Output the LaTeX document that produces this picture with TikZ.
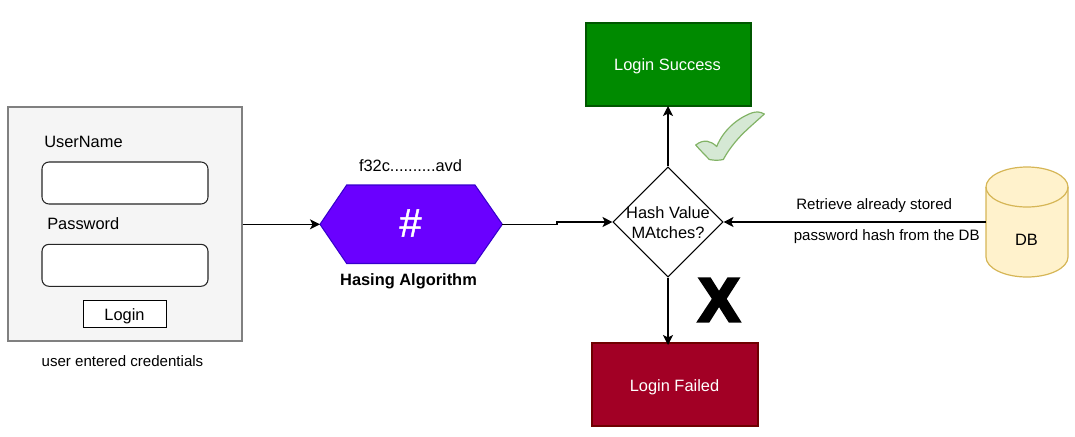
\documentclass[tikz,border=0pt]{standalone}
\usepackage{fontspec}
\setmainfont{Liberation Sans}
\usetikzlibrary{arrows.meta,shapes.geometric}
\newcommand{\pxu}{0.75pt}
\newfontfamily\heavyfont[FakeBold=5]{Liberation Sans Bold}
\newfontfamily\hashfont[FakeBold=1.2]{Liberation Sans}
\tikzset{
  x=0.75pt,y=-0.75pt,
  txt/.style={inner sep=0pt,font=\fontsize{12.3pt}{14pt}\selectfont,anchor=base,text=black},
  txtsm/.style={inner sep=0pt,font=\fontsize{11.3pt}{14pt}\selectfont,anchor=base,text=black},
  txtw/.style={txt,text=white},
  panel/.style={draw=black!50,fill=black!4,line width=1pt,rectangle,inner sep=0pt,minimum width=234*\pxu,minimum height=234*\pxu},
  field/.style={draw=black!85,fill=white,line width=0.8pt,rectangle,rounded corners=7*\pxu,inner sep=0pt,minimum width=166*\pxu,minimum height=42*\pxu},
  btn/.style={draw=black,fill=white,line width=0.8pt,rectangle,inner sep=0pt,minimum width=83*\pxu,minimum height=27*\pxu},
  okbox/.style={draw=okd,fill=okf,line width=0.8pt,rectangle,inner sep=0pt,minimum width=165*\pxu,minimum height=83*\pxu},
  badbox/.style={draw=badd,fill=badf,line width=0.8pt,rectangle,inner sep=0pt,minimum width=166*\pxu,minimum height=83*\pxu},
  decide/.style={draw=black,fill=white,line width=0.8pt,diamond,aspect=1,inner sep=0pt,minimum width=110*\pxu,minimum height=110*\pxu},
  conn/.style={draw=black,line width=0.9pt,-{Stealth[length=10*\pxu,width=10*\pxu,inset=2.5*\pxu]}},
}
\definecolor{okf}{HTML}{008A00}
\definecolor{okd}{HTML}{005700}
\definecolor{badf}{HTML}{A20025}
\definecolor{badd}{HTML}{6F0000}
\definecolor{hexf}{HTML}{6A00FF}
\definecolor{hexd}{HTML}{3700CC}
\definecolor{dbf}{HTML}{FFF2CC}
\definecolor{dbd}{HTML}{D6B656}
\definecolor{ckf}{HTML}{D5E8D4}
\definecolor{ckd}{HTML}{82B366}
\begin{document}
\begin{tikzpicture}
\useasboundingbox (0,0) rectangle (1075,436);
% login panel
\node[panel] (form) at (125,224) {};
\node[field] (userfield) at (125,183) {};
\node[field] (passfield) at (125,265.3) {};
\node[btn] (loginbtn) at (124.7,313.7) {};
\node[txt,anchor=base west] (ulabel) at (44,147) {UserName};
\node[txt,anchor=base west] (plabel) at (47,229) {Password};
\node[txt] (lgl) at (124.5,320) {Login};
\node[txtsm] (cred) at (122.5,366) {user entered credentials};
% hexagon
\path[fill=hexf,draw=hexd,line width=0.8pt,line join=miter] (320,224.3) -- (346.7,185) -- (475,185) -- (502.3,224.3) -- (475,263.5) -- (346.7,263.5) -- cycle;
\coordinate (hexW) at (320,224.3);
\coordinate (hexE) at (502.3,224.3);
\node[inner sep=0pt,text=white,font=\hashfont\fontsize{30pt}{32pt}\selectfont] (hash) at (410.5,223) {\#};
\node[txt] (hashval) at (410.5,171) {f32c..........avd};
\node[txt,font=\bfseries\fontsize{12.3pt}{14pt}\selectfont] (hashname) at (408.5,285) {Hasing Algorithm};
% decision
\node[decide] (match) at (668,222) {};
\node[txt] (m1) at (668,218) {Hash Value};
\node[txt] (m2) at (668,238) {MAtches?};
% outcomes
\node[okbox] (ok) at (668.5,64.5) {};
\node[txtw] (oktxt) at (667.5,70) {Login Success};
\node[badbox] (bad) at (675,384.5) {};
\node[txtw] (badtxt) at (674.5,391) {Login Failed};
% check mark
\path[draw=ckd,fill=ckf,line width=0.9pt,line join=round]
  (764.3,114) .. controls (760,111.5) and (756,111.5) .. (751.5,113)
  .. controls (736,119) and (723,131) .. (716.7,146.5)
  .. controls (711,141) and (704,138.5) .. (695.7,145)
  .. controls (700,150) and (705,155) .. (709.3,159.5)
  .. controls (714,160.5) and (719,160.5) .. (723.3,159.5)
  .. controls (730,147) and (740,136) .. (746.7,130)
  .. controls (753,124) and (759,119) .. (764.3,114) -- cycle;
% X
\node[inner sep=0pt,anchor=base,font=\heavyfont\fontsize{46pt}{50pt}\selectfont] (cross) at (719,321) {X};
% DB
\path[draw=dbd,fill=dbf,line width=0.9pt] (986,187) arc[start angle=180,end angle=360,x radius=41,y radius=20] -- (1068,257) arc[start angle=0,end angle=180,x radius=41,y radius=20] -- cycle;
\draw[dbd,line width=0.9pt] (986,187) arc[start angle=180,end angle=0,x radius=41,y radius=20];
\coordinate (dbW) at (986,222);
\node[txt] (dbtxt) at (1026.5,245) {DB};
\node[txtsm,anchor=base west] (r1) at (796,209) {Retrieve already stored};
\node[txtsm,anchor=base west] (r2) at (793.5,240) {password hash from the DB};
% connectors
\draw[conn] (form.east |- hexW) -- (hexW);
\draw[conn] (hexE) -- (557,224.3) -- (557,222) -- (match.west);
\draw[conn] (dbW) -- (match.east);
\draw[conn] (match.north) -- (668,106);
\draw[conn] (match.south) -- (668,345);
\end{tikzpicture}
\end{document}
